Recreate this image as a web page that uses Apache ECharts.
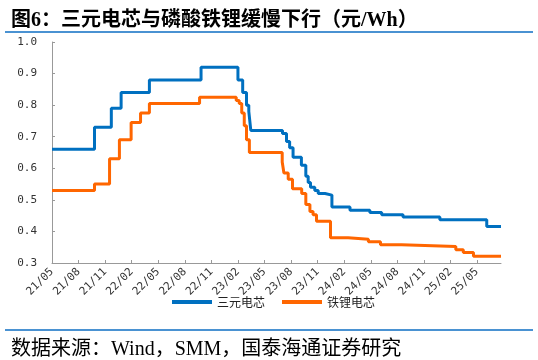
<!DOCTYPE html>
<html>
<head>
<meta charset="utf-8">
<script src="https://cdn.jsdelivr.net/npm/echarts@6/dist/echarts.min.js"></script>
<style>
html,body{margin:0;padding:0;background:#fff;}
#chart{width:538px;height:360px;}
</style>
</head>
<body>
<div id="chart"></div>
<script>
// Tick labels on the x axis (every 3 months from 2021-05)
const tickLabels = ['21/05','21/08','21/11','22/02','22/05','22/08','22/11','23/02','23/05','23/08','23/11','24/02','24/05','24/08','24/11','25/02','25/05'];
const seriesNames = ['三元电芯','铁锂电芯'];

// 三元电芯: date each price level starts (last entry = end of data)
const nmcDates = ['2021-05-01','2021-09-25','2021-11-22','2021-12-26','2022-04-01','2022-09-26','2023-02-01','2023-02-16','2023-02-28','2023-03-08','2023-03-15','2023-07-02','2023-07-16','2023-07-27','2023-08-08','2023-09-06','2023-09-21','2023-09-29','2023-10-07','2023-10-22','2023-11-03','2023-11-26','2023-12-20','2024-02-20','2024-04-28','2024-06-08','2024-08-21','2024-12-26','2025-06-04','2025-07-23'];
const nmcValues = [0.66,0.73,0.79,0.84,0.88,0.92,0.88,0.84,0.80,0.78,0.72,0.71,0.685,0.665,0.635,0.61,0.575,0.555,0.54,0.53,0.52,0.515,0.477,0.467,0.46,0.453,0.446,0.437,0.416,0.416];

// 铁锂电芯
const lfpDates = ['2021-05-01','2021-09-25','2021-11-16','2021-12-20','2022-01-30','2022-03-01','2022-04-01','2022-09-21','2023-01-03','2023-01-07','2023-01-26','2023-02-05','2023-02-13','2023-02-21','2023-02-28','2023-03-10','2023-07-01','2023-07-07','2023-07-22','2023-08-06','2023-09-07','2023-09-21','2023-10-05','2023-10-16','2023-10-28','2023-12-15','2024-02-14','2024-04-23','2024-06-04','2024-08-16','2025-02-18','2025-03-15','2025-04-19','2025-07-23'];
const lfpValues = [0.53,0.55,0.63,0.69,0.745,0.775,0.805,0.825,0.831,0.825,0.815,0.805,0.775,0.735,0.69,0.65,0.62,0.585,0.565,0.535,0.52,0.485,0.463,0.453,0.432,0.38,0.375,0.367,0.358,0.352,0.342,0.333,0.321,0.321];

// months elapsed since 2021-05-01
function toM(s){
  const p = s.split('-').map(Number);
  const dim = new Date(p[0], p[1], 0).getDate();
  return (p[0]-2021)*12 + (p[1]-5) + (p[2]-1)/dim;
}
const nmcData = nmcDates.map((d,i)=>[toM(d), nmcValues[i]]);
const lfpData = lfpDates.map((d,i)=>[toM(d), lfpValues[i]]);
const xMax = Math.max(toM(nmcDates[nmcDates.length-1]), toM(lfpDates[lfpDates.length-1]));
const tickValues = tickLabels.map((_,i)=>i*3);

const chart = echarts.init(document.getElementById('chart'), null, {renderer:'canvas'});
chart.setOption({
  animation:false,
  backgroundColor:'#fff',
  title:[
    {text:'图6：三元电芯与磷酸铁锂缓慢下行（元/Wh）', left:6, top:6,
     textStyle:{fontSize:20, fontWeight:'bold', color:'#000', fontFamily:"'Liberation Serif','Noto Sans CJK SC'"}},
    {text:'数据来源：Wind，SMM，国泰海通证券研究', left:6, top:335,
     textStyle:{fontSize:20, fontWeight:'normal', color:'#000', fontFamily:"'Liberation Serif','Noto Sans CJK SC'"}}
  ],
  graphic:[
    {type:'rect', shape:{x:5, y:31, width:528, height:2}, style:{fill:'#4A92D2'}, silent:true},
    {type:'rect', shape:{x:5, y:329, width:528, height:2}, style:{fill:'#4A92D2'}, silent:true}
  ],
  grid:{left:52, right:37, top:42, bottom:97, containLabel:false},
  legend:{
    data:seriesNames, top:296, left:172, padding:0,
    icon:'rect', itemWidth:40, itemHeight:4, itemGap:17,
    textStyle:{fontSize:12, color:'#222', fontFamily:"'Noto Sans CJK SC'"}
  },
  xAxis:{
    type:'value', min:0, max:xMax,
    splitLine:{show:false},
    axisLine:{show:true, lineStyle:{color:'#999', width:1}},
    axisTick:{show:true, inside:true, length:3, lineStyle:{color:'#999'}, customValues:tickValues},
    axisLabel:{rotate:45, margin:7, fontSize:11, color:'#333', fontFamily:"'DejaVu Sans Mono'",
      customValues:tickValues,
      formatter:function(v){ const i = Math.round(v/3); return tickLabels[i] || ''; }}
  },
  yAxis:{
    type:'value', min:0.3, max:1.0, interval:0.1,
    splitLine:{show:false},
    axisLine:{show:true, lineStyle:{color:'#999', width:1}},
    axisTick:{show:true, inside:true, length:3, lineStyle:{color:'#999'}},
    axisLabel:{margin:15, fontSize:11, color:'#333', fontFamily:"'DejaVu Sans Mono'",
      formatter:function(v){ return v.toFixed(1); }}
  },
  series:[
    {name:seriesNames[0], type:'line', step:'end', data:nmcData, showSymbol:false, symbol:'none',
     lineStyle:{color:'#0070C0', width:3}, itemStyle:{color:'#0070C0'}},
    {name:seriesNames[1], type:'line', step:'end', data:lfpData, showSymbol:false, symbol:'none',
     lineStyle:{color:'#FF6600', width:3}, itemStyle:{color:'#FF6600'}}
  ]
});
</script>
</body>
</html>
